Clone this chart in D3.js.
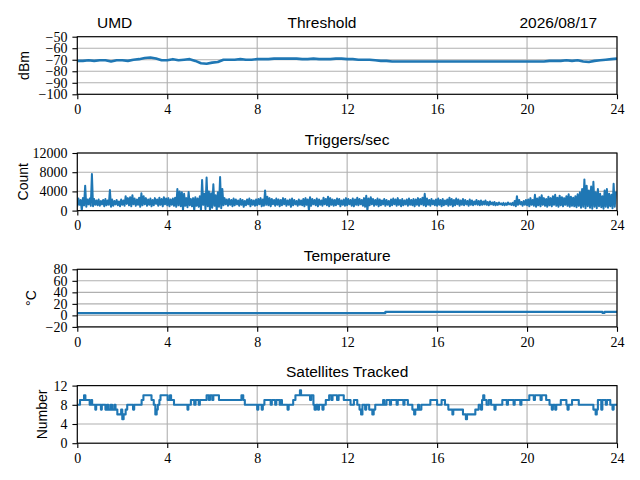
<!DOCTYPE html>
<html>
<head>
<meta charset="utf-8">
<title>UMD station monitor</title>
<script src="https://cdn.jsdelivr.net/npm/d3@7"></script>
<style>
  body { margin: 0; background: #fff; }
  .lbl { font-family: "Liberation Sans", Arial, sans-serif; font-size: 14px; fill: #000; }
  .ttl { font-family: "Liberation Sans", Arial, sans-serif; font-size: 15.5px; fill: #000; }
  svg .tick text { font-family: "Liberation Serif", "Times New Roman", serif; font-size: 14px; fill: #000; }
</style>
</head>
<body>
<script>
// ---- data ----
var hourTicks = [0, 4, 8, 12, 16, 20, 24];

// threshold, one sample every 0.25 h
var thresholdValues = [
  -71, -71, -70.5, -71, -70.5, -70.5, -71.5, -70.5, -70.5, -71,
  -70, -69.5, -68.5, -68, -69, -70.5, -70.5, -69.5, -70.5, -70,
  -69.5, -71, -73, -73.5, -72.5, -72, -70, -70, -70, -69.5,
  -70, -70, -69.5, -69.5, -69.5, -69, -69, -69, -69, -69,
  -69.5, -69.5, -69, -69.5, -69.5, -69.5, -69, -69, -69.5, -69.5,
  -70, -70, -70, -70.5, -71, -71, -71.5, -71.5, -71.5, -71.5,
  -71.5, -71.5, -71.5, -71.5, -71.5, -71.5, -71.5, -71.5, -71.5, -71.5,
  -71.5, -71.5, -71.5, -71.5, -71.5, -71.5, -71.5, -71.5, -71.5, -71.5,
  -71.5, -71.5, -71.5, -71.5, -71, -71, -71, -70.5, -71, -70.5,
  -71.5, -72, -71, -70.5, -70, -69.5, -69
];

// triggers per 0.1 h bin: peak and floor
var triggersHi = [
  2500, 2200, 2600, 5200, 2300, 2500, 7600, 2400, 2100, 2300,
  2000, 2200, 2400, 2100, 4300, 2300, 2000, 2200, 1900, 2300,
  2100, 3000, 2600, 2800, 3200, 2500, 2300, 2700, 3600, 3000,
  2600, 2300, 2500, 2200, 2600, 2300, 2700, 2400, 2800, 2500,
  2600, 2300, 2500, 2700, 4500, 4000, 3800, 3500, 2600, 3900,
  2400, 2600, 2800, 2500, 3000, 6400, 3500, 6900, 4000, 3600,
  5500, 3200, 3800, 7000, 4500, 2600, 2300, 2400, 2200, 2500,
  2300, 2100, 2400, 2200, 2000, 2300, 2500, 2200, 2100, 2300,
  2400, 2600, 2300, 4200, 2900, 2600, 2400, 2200, 2500, 2300,
  2200, 2600, 2400, 2100, 2300, 2500, 2200, 2000, 2300, 2100,
  2400, 2600, 2300, 2800, 2400, 2200, 2500, 2300, 2100, 2700,
  2400, 2900, 2600, 2300, 2200, 2500, 2400, 2100, 2300, 2600,
  2400, 2200, 2500, 2300, 2700, 2400, 2200, 2600, 3100, 2500,
  2800, 2400, 2200, 2500, 2300, 2100, 2400, 2200, 2000, 2300,
  2500, 2300, 2600, 2200, 2400, 2100, 2300, 2500, 2200, 2400,
  2300, 2600, 2400, 2700, 3500, 2500, 2200, 2400, 2100, 2300,
  2500, 2200, 2400, 2100, 2300, 2700, 2400, 2200, 2500, 2300,
  2100, 2400, 2200, 2000, 2300, 2100, 1900, 2200, 2000, 2100,
  1900, 2100, 1800, 1900, 1700, 1800, 1600, 1700, 1500, 1600,
  1500, 1700, 1500, 1600, 2000, 3000, 2200, 1800, 2000, 2200,
  2300, 2600, 2200, 3300, 2500, 2800, 3200, 2600, 2400, 2900,
  2600, 3000, 3300, 2700, 3100, 2800, 2600, 3000, 3400, 2900,
  2700, 3000, 3400, 3800, 4500, 6500, 5200, 4200, 5000, 6000,
  3800, 4500, 3500, 3000, 4200, 4500, 3500, 3300, 5600, 4000
];
var triggersLo = [
  900, 1200, 0, 1100, 800, 1300, 1000, 900, 1200, 1100,
  1000, 1300, 900, 1100, 1200, 800, 1000, 1300, 1100, 900,
  1200, 1000, 1400, 1100, 900, 1300, 1000, 1200, 800, 1100,
  1300, 1000, 1200, 900, 1100, 1400, 1000, 1200, 900, 1300,
  1100, 900, 1200, 1000, 800, 1100, 900, 0, 1000, 700,
  1100, 900, 0, 1000, 800, 0, 1200, 300, 900, 0,
  600, 1000, 0, 800, 500, 1100, 1300, 1000, 1200, 900,
  1100, 1300, 1000, 1200, 800, 1100, 1300, 900, 1200, 1000,
  1100, 1300, 900, 1000, 1200, 1100, 900, 1300, 1000, 1200,
  900, 1100, 1300, 1000, 1200, 800, 1100, 1300, 1000, 1200,
  1100, 900, 1200, 0, 1000, 1300, 1100, 900, 1200, 1000,
  1300, 1100, 900, 1200, 1000, 1100, 1300, 900, 1200, 1000,
  1100, 1300, 1000, 900, 1200, 1100, 1300, 1000, 800, 0,
  1100, 1300, 1000, 1200, 900, 1100, 1300, 1000, 1200, 900,
  1100, 1300, 1000, 1200, 900, 1100, 1300, 1000, 1200, 1100,
  900, 1200, 1000, 1300, 1100, 900, 1200, 1000, 1300, 1100,
  1000, 1200, 900, 1100, 1300, 1000, 1200, 900, 1100, 1300,
  1000, 1200, 1100, 1300, 1000, 1200, 1100, 1300, 1200, 1100,
  1200, 1300, 1200, 1100, 1300, 1200, 1100, 1200, 1300, 1200,
  1100, 1200, 1300, 1200, 1100, 900, 1200, 1300, 1000, 1200,
  1100, 900, 1200, 1000, 800, 1100, 900, 1200, 1000, 800,
  1100, 900, 1200, 1000, 800, 1100, 900, 1200, 1000, 800,
  1000, 900, 700, 1000, 600, 800, 500, 900, 600, 400,
  800, 500, 900, 700, 400, 800, 600, 900, 500, 800
];

// temperature steps
var tempTimes  = [0, 13.7, 23.35, 23.45, 24];
var tempValues = [4, 6, 4.5, 6, 6];

// satellites tracked, value holds from each time until the next
var satTimes = [
  0, 0.12, 0.3, 0.36, 0.55, 0.62, 0.66, 0.8, 0.84, 1.05, 1.09, 1.25, 1.32, 1.38, 1.48, 1.55,
  1.65, 1.7, 1.78, 1.95, 2.0, 2.06, 2.15, 2.22, 2.48, 2.53, 2.86, 2.94, 3.3, 3.4, 3.47, 3.53,
  3.58, 3.65, 3.7, 4.02, 4.12, 4.17, 4.3, 4.9, 4.94, 5.05, 5.2, 5.26, 5.4, 5.45, 5.75, 5.85,
  5.9, 6.0, 6.05, 6.3, 7.3, 7.38, 7.45, 8.0, 8.05, 8.2, 8.25, 8.32, 8.6, 8.65, 8.8, 8.85,
  9.0, 9.05, 9.1, 9.35, 9.4, 9.6, 9.7, 9.9, 9.95, 10.35, 10.4, 10.5, 10.55, 10.62, 10.7, 10.75,
  10.9, 10.95, 11.05, 11.2, 11.3, 11.35, 11.55, 11.62, 11.85, 12.15, 12.3, 12.45, 12.55, 12.62, 12.68, 12.8,
  12.85, 12.98, 13.12, 13.18, 13.25, 13.6, 13.65, 13.75, 13.9, 13.95, 14.2, 14.25, 14.5, 14.55, 14.7, 14.9,
  14.98, 15.03, 15.15, 15.2, 15.3, 15.7, 16.0, 16.2, 16.35, 16.5, 16.68, 16.72, 17.15, 17.28, 17.33, 17.7,
  17.85, 17.95, 18.0, 18.05, 18.1, 18.2, 18.3, 18.4, 18.55, 18.6, 18.9, 19.1, 19.15, 19.4, 19.45, 19.7,
  19.75, 20.1, 20.3, 20.35, 20.6, 20.65, 20.85, 21.0, 21.1, 21.15, 21.25, 21.3, 21.5, 21.75, 21.8, 21.85,
  22.0, 22.3, 22.95, 23.05, 23.1, 23.15, 23.3, 23.35, 23.5, 23.55, 23.7, 23.8, 23.85, 24
];
var satValues = [
  8, 9, 10, 9, 8, 9, 8, 7, 8, 7, 8, 7, 8, 7, 8, 7,
  8, 7, 6, 7, 5, 6, 7, 8, 7, 8, 9, 10, 9, 8, 6, 7,
  8, 9, 10, 9, 10, 9, 8, 7, 8, 9, 8, 9, 8, 9, 10, 9,
  10, 9, 10, 9, 10, 9, 8, 7, 8, 7, 8, 9, 8, 9, 8, 9,
  8, 9, 8, 7, 8, 9, 10, 11, 10, 9, 10, 8, 7, 8, 7, 8,
  7, 8, 9, 10, 9, 10, 9, 10, 9, 8, 9, 8, 7, 6, 8, 7,
  8, 7, 6, 7, 8, 9, 8, 9, 8, 9, 8, 9, 8, 9, 8, 7,
  6, 7, 8, 7, 8, 9, 8, 9, 8, 7, 6, 7, 6, 5, 6, 7,
  8, 7, 9, 10, 9, 8, 9, 8, 7, 8, 9, 8, 9, 8, 9, 8,
  9, 10, 9, 10, 9, 10, 9, 8, 7, 8, 7, 8, 9, 8, 7, 8,
  9, 8, 7, 6, 7, 9, 7, 9, 8, 9, 8, 7, 8, 8
];

var thresholdTicks = [-100, -90, -80, -70, -60, -50];
var triggerTicks = [0, 4000, 8000, 12000];
var tempTicks = [-20, 0, 20, 40, 60, 80];
var satTicks = [0, 4, 8, 12];

// ---- build series ----
var thresholdSeries = thresholdValues.map(function (v, i) { return [i * 0.25, v]; });
var triggerSeries = [];
triggersHi.forEach(function (hi, i) {
  triggerSeries.push([i * 0.1, triggersLo[i]]);
  triggerSeries.push([i * 0.1 + 0.05, hi]);
});
var tempSeries = tempTimes.map(function (t, i) { return [t, tempValues[i]]; });
var satSeries = satTimes.map(function (t, i) { return [t, satValues[i]]; });

var panels = [
  { title: "Threshold", label: "dBm", labelX: 29, ticks: thresholdTicks, data: thresholdSeries, curve: d3.curveLinear, width: 2.6 },
  { title: "Triggers/sec", label: "Count", labelX: 28, ticks: triggerTicks, data: triggerSeries, curve: d3.curveLinear, width: 2 },
  { title: "Temperature", label: "\u00b0C", labelX: 36, ticks: tempTicks, data: tempSeries, curve: d3.curveStepAfter, width: 2.2 },
  { title: "Satellites Tracked", label: "Number", labelX: 47, ticks: satTicks, data: satSeries, curve: d3.curveStepAfter, width: 2.1 }
];

var left = 77.3, right = 617, panelH = 57.6;
var tops = [36.7, 153.0, 269.3, 385.6];

var svg = d3.select("body").append("svg")
  .attr("width", 640)
  .attr("height", 480);

var x = d3.scaleLinear().domain([0, 24]).range([left, right]);

function minusFmt(d) { return d < 0 ? "\u2212" + (-d) : String(d); }

panels.forEach(function (p, k) {
  var top = tops[k], bottom = top + panelH;
  var y = d3.scaleLinear().domain(d3.extent(p.ticks)).range([bottom, top]);
  var g = svg.append("g");

  // grid
  g.selectAll(".vg").data(hourTicks).enter().append("line")
    .attr("x1", x).attr("x2", x).attr("y1", top).attr("y2", bottom)
    .attr("stroke", "#b0b0b0").attr("stroke-width", 1.1);
  g.selectAll(".hg").data(p.ticks).enter().append("line")
    .attr("x1", left).attr("x2", right).attr("y1", y).attr("y2", y)
    .attr("stroke", "#b0b0b0").attr("stroke-width", 1.1);

  // data line
  g.append("clipPath").attr("id", "clip" + k)
    .append("rect").attr("x", left).attr("y", top).attr("width", right - left).attr("height", panelH);
  g.append("path")
    .datum(p.data)
    .attr("clip-path", "url(#clip" + k + ")")
    .attr("fill", "none")
    .attr("stroke", "#1f77b4")
    .attr("stroke-width", p.width)
    .attr("stroke-linejoin", "round")
    .attr("d", d3.line().curve(p.curve)
      .x(function (d) { return x(d[0]); })
      .y(function (d) { return y(d[1]); }));

  // frame
  g.append("rect")
    .attr("x", left).attr("y", top).attr("width", right - left).attr("height", panelH)
    .attr("fill", "none").attr("stroke", "#000").attr("stroke-width", 1.1);

  // axes
  var ya = g.append("g").attr("transform", "translate(" + left + ",0)")
    .call(d3.axisLeft(y).tickValues(p.ticks).tickSize(4.9).tickPadding(4.9).tickFormat(minusFmt));
  var xa = g.append("g").attr("transform", "translate(0," + bottom + ")")
    .call(d3.axisBottom(x).tickValues(hourTicks).tickSize(4.9).tickPadding(4.9).tickFormat(d3.format("d")));
  [ya, xa].forEach(function (a) {
    a.select(".domain").remove();
    a.attr("font-family", "Liberation Serif, serif").attr("font-size", 14);
    a.selectAll(".tick line").attr("stroke", "#000").attr("stroke-width", 1.1);
  });

  // labels
  svg.append("text").attr("class", "lbl")
    .attr("transform", "translate(" + p.labelX + "," + (top + panelH / 2) + ") rotate(-90)")
    .attr("text-anchor", "middle")
    .text(p.label);

  if (k > 0) {
    svg.append("text").attr("class", "ttl")
      .attr("x", (left + right) / 2).attr("y", top - 8.3)
      .attr("text-anchor", "middle")
      .text(p.title);
  }
});

// header row over the first panel
svg.append("text").attr("class", "ttl").attr("x", 97).attr("y", tops[0] - 8.3).text("UMD");
svg.append("text").attr("class", "ttl").attr("x", 322).attr("y", tops[0] - 8.3)
  .attr("text-anchor", "middle").text(panels[0].title);
svg.append("text").attr("class", "ttl").attr("x", 597).attr("y", tops[0] - 8.3)
  .attr("text-anchor", "end").text("2026/08/17");
</script>
</body>
</html>
